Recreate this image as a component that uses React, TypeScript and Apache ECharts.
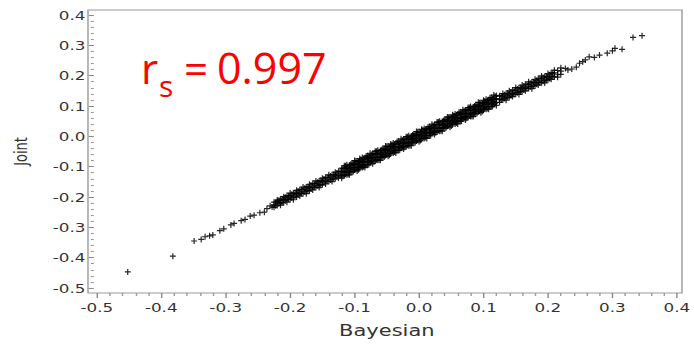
import React, { useEffect, useRef } from "react";
import * as echarts from "echarts";

// Horizontal stretch of the original SAS graphic (the picture was widened)
const STRETCH = 1.4;
const INNER_W = 496;
const INNER_H = 345;

const xTicks = [-0.5, 0.4];
const yTicks = [-0.5, 0.4];
const xAxisTitle = "Bayesian";
const yAxisTitle = "Joint";
const corrLabel = "0.997";

// Sparse lower tail (Bayesian, Joint)
const lowerTail: [number, number][] = [
  [-0.452, -0.447], [-0.382, -0.395], [-0.349, -0.345], [-0.338, -0.34],
  [-0.332, -0.331], [-0.325, -0.328], [-0.32, -0.325], [-0.309, -0.311],
  [-0.303, -0.305], [-0.292, -0.292], [-0.287, -0.287], [-0.276, -0.278],
  [-0.27, -0.274], [-0.262, -0.263], [-0.256, -0.26], [-0.247, -0.252],
  [-0.24, -0.25], [-0.236, -0.238], [-0.231, -0.229], [-0.228, -0.233],
];

// Lower part of the band: Bayesian value, then Joint values at it
const lowerBand: number[][] = [
  [-0.225, -0.217, -0.226, -0.234],
  [-0.22, -0.215, -0.228, -0.21],
  [-0.215, -0.221, -0.207, -0.227],
  [-0.21, -0.199, -0.209, -0.219],
  [-0.205, -0.195, -0.207, -0.217],
  [-0.2, -0.196, -0.209, -0.187],
  [-0.195, -0.201, -0.187, -0.209],
  [-0.19, -0.178, -0.189, -0.2],
  [-0.185, -0.175, -0.187, -0.197],
  [-0.18, -0.176, -0.189, -0.167],
  [-0.175, -0.181, -0.167, -0.189],
  [-0.17, -0.158, -0.169, -0.18],
  [-0.165, -0.155, -0.167, -0.177],
  [-0.16, -0.156, -0.169, -0.147],
  [-0.155, -0.161, -0.147, -0.169],
  [-0.15, -0.138, -0.149, -0.16],
  [-0.145, -0.135, -0.147, -0.157],
  [-0.14, -0.136, -0.149, -0.127],
  [-0.135, -0.141, -0.127, -0.149],
  [-0.13, -0.118, -0.129, -0.14],
  [-0.125, -0.115, -0.127, -0.137],
];

const lowerBandFill: number[][] = [
  [-0.2225, -0.218, -0.229],
  [-0.2175, -0.211, -0.222],
  [-0.2125, -0.206, -0.218],
  [-0.2075, -0.212, -0.201],
  [-0.2025, -0.196, -0.207],
  [-0.1975, -0.191, -0.203],
  [-0.1925, -0.197, -0.186],
  [-0.1875, -0.181, -0.193],
  [-0.1825, -0.176, -0.188],
  [-0.1775, -0.183, -0.171],
  [-0.1725, -0.166, -0.178],
  [-0.1675, -0.161, -0.174],
  [-0.1625, -0.168, -0.156],
  [-0.1575, -0.151, -0.163],
  [-0.1525, -0.146, -0.159],
  [-0.1475, -0.153, -0.141],
  [-0.1425, -0.136, -0.148],
  [-0.1375, -0.131, -0.144],
  [-0.1325, -0.138, -0.126],
  [-0.1275, -0.121, -0.133],
  [-0.1225, -0.116, -0.129],
];

// Core of the band, the darkest part
const coreBand: number[][] = [
  [-0.12, -0.105, -0.116, -0.128, -0.138],
  [-0.116, -0.105, -0.118, -0.129, -0.097],
  [-0.112, -0.094, -0.105, -0.117, -0.127],
  [-0.108, -0.118, -0.095, -0.107, -0.127],
  [-0.104, -0.095, -0.108, -0.088, -0.118],
  [-0.1, -0.08, -0.111, -0.094, -0.103],
  [-0.096, -0.081, -0.092, -0.104, -0.114],
  [-0.092, -0.081, -0.094, -0.105, -0.073],
  [-0.088, -0.07, -0.081, -0.093, -0.103],
  [-0.084, -0.094, -0.071, -0.083, -0.103],
  [-0.08, -0.071, -0.084, -0.064, -0.094],
  [-0.076, -0.056, -0.087, -0.07, -0.079],
  [-0.072, -0.057, -0.068, -0.08, -0.09],
  [-0.068, -0.057, -0.07, -0.081, -0.049],
  [-0.064, -0.046, -0.057, -0.069, -0.079],
  [-0.06, -0.07, -0.047, -0.059, -0.079],
  [-0.056, -0.047, -0.06, -0.04, -0.07],
  [-0.052, -0.032, -0.063, -0.046, -0.055],
  [-0.048, -0.033, -0.044, -0.056, -0.066],
  [-0.044, -0.033, -0.046, -0.057, -0.025],
  [-0.04, -0.022, -0.033, -0.045, -0.055],
  [-0.036, -0.046, -0.023, -0.035, -0.055],
  [-0.032, -0.023, -0.036, -0.016, -0.046],
  [-0.028, -0.008, -0.039, -0.022, -0.031],
  [-0.024, -0.009, -0.02, -0.032, -0.042],
  [-0.02, -0.009, -0.022, -0.033, -0.001],
  [-0.016, 0.002, -0.009, -0.021, -0.031],
  [-0.012, -0.022, 0.001, -0.011, -0.031],
  [-0.008, 0.001, -0.012, 0.008, -0.022],
  [-0.004, 0.016, -0.015, 0.002, -0.007],
  [0.0, 0.015, 0.004, -0.008, -0.018],
  [0.004, 0.015, 0.002, -0.009, 0.023],
  [0.008, 0.026, 0.015, 0.003, -0.007],
  [0.012, 0.002, 0.025, 0.013, -0.007],
  [0.016, 0.025, 0.012, 0.032, 0.002],
  [0.02, 0.04, 0.009, 0.026, 0.017],
  [0.024, 0.039, 0.028, 0.016, 0.006],
  [0.028, 0.039, 0.026, 0.015, 0.047],
  [0.032, 0.05, 0.039, 0.027, 0.017],
  [0.036, 0.026, 0.049, 0.037, 0.017],
  [0.04, 0.049, 0.036, 0.056, 0.026],
  [0.044, 0.064, 0.033, 0.05, 0.041],
  [0.048, 0.063, 0.052, 0.04, 0.03],
  [0.052, 0.063, 0.05, 0.039, 0.071],
  [0.056, 0.074, 0.063, 0.051, 0.041],
  [0.06, 0.05, 0.073, 0.061, 0.041],
  [0.064, 0.073, 0.06, 0.08, 0.05],
  [0.068, 0.088, 0.057, 0.074, 0.065],
  [0.072, 0.087, 0.076, 0.064, 0.054],
  [0.076, 0.087, 0.074, 0.063, 0.095],
  [0.08, 0.098, 0.087, 0.075, 0.065],
  [0.084, 0.074, 0.097, 0.085, 0.065],
  [0.088, 0.097, 0.084, 0.104, 0.074],
  [0.092, 0.112, 0.081, 0.098, 0.089],
  [0.096, 0.111, 0.1, 0.088, 0.078],
  [0.1, 0.111, 0.098, 0.087, 0.119],
  [0.104, 0.122, 0.111, 0.099, 0.089],
  [0.108, 0.098, 0.121, 0.109, 0.089],
  [0.112, 0.121, 0.108, 0.128, 0.098],
  [0.116, 0.136, 0.105, 0.122, 0.113],
  [0.12, 0.135, 0.124, 0.112, 0.102],
];

// Further points in the core, between the columns above
const coreBandFill: number[][] = [
  [-0.118, -0.106, -0.119, -0.132],
  [-0.114, -0.107, -0.125, -0.097],
  [-0.11, -0.114, -0.1, -0.126],
  [-0.106, -0.092, -0.103, -0.115],
  [-0.102, -0.09, -0.103, -0.116],
  [-0.098, -0.091, -0.109, -0.081],
  [-0.094, -0.098, -0.084, -0.11],
  [-0.09, -0.076, -0.087, -0.099],
  [-0.086, -0.074, -0.087, -0.1],
  [-0.082, -0.075, -0.093, -0.065],
  [-0.078, -0.082, -0.068, -0.094],
  [-0.074, -0.06, -0.071, -0.083],
  [-0.07, -0.058, -0.071, -0.084],
  [-0.066, -0.059, -0.077, -0.049],
  [-0.062, -0.066, -0.052, -0.078],
  [-0.058, -0.044, -0.055, -0.067],
  [-0.054, -0.042, -0.055, -0.068],
  [-0.05, -0.043, -0.061, -0.033],
  [-0.046, -0.05, -0.036, -0.062],
  [-0.042, -0.028, -0.039, -0.051],
  [-0.038, -0.026, -0.039, -0.052],
  [-0.034, -0.027, -0.045, -0.017],
  [-0.03, -0.034, -0.02, -0.046],
  [-0.026, -0.012, -0.023, -0.035],
  [-0.022, -0.01, -0.023, -0.036],
  [-0.018, -0.011, -0.029, -0.001],
  [-0.014, -0.018, -0.004, -0.03],
  [-0.01, 0.004, -0.007, -0.019],
  [-0.006, 0.006, -0.007, -0.02],
  [-0.002, 0.005, -0.013, 0.015],
  [0.002, -0.002, 0.012, -0.014],
  [0.006, 0.02, 0.009, -0.003],
  [0.01, 0.022, 0.009, -0.004],
  [0.014, 0.021, 0.003, 0.031],
  [0.018, 0.014, 0.028, 0.002],
  [0.022, 0.036, 0.025, 0.013],
  [0.026, 0.038, 0.025, 0.012],
  [0.03, 0.037, 0.019, 0.047],
  [0.034, 0.03, 0.044, 0.018],
  [0.038, 0.052, 0.041, 0.029],
  [0.042, 0.054, 0.041, 0.028],
  [0.046, 0.053, 0.035, 0.063],
  [0.05, 0.046, 0.06, 0.034],
  [0.054, 0.068, 0.057, 0.045],
  [0.058, 0.07, 0.057, 0.044],
  [0.062, 0.069, 0.051, 0.079],
  [0.066, 0.062, 0.076, 0.05],
  [0.07, 0.084, 0.073, 0.061],
  [0.074, 0.086, 0.073, 0.06],
  [0.078, 0.085, 0.067, 0.095],
  [0.082, 0.078, 0.092, 0.066],
  [0.086, 0.1, 0.089, 0.077],
  [0.09, 0.102, 0.089, 0.076],
  [0.094, 0.101, 0.083, 0.111],
  [0.098, 0.094, 0.108, 0.082],
  [0.102, 0.116, 0.105, 0.093],
  [0.106, 0.118, 0.105, 0.092],
  [0.11, 0.117, 0.099, 0.127],
  [0.114, 0.11, 0.124, 0.098],
  [0.118, 0.132, 0.121, 0.109],
];

// Upper part of the band
const upperBand: number[][] = [
  [0.125, 0.134, 0.122, 0.112],
  [0.13, 0.133, 0.12, 0.141],
  [0.135, 0.127, 0.141, 0.119],
  [0.14, 0.15, 0.139, 0.128],
  [0.145, 0.153, 0.141, 0.131],
  [0.15, 0.152, 0.139, 0.161],
  [0.155, 0.146, 0.16, 0.138],
  [0.16, 0.169, 0.158, 0.147],
  [0.165, 0.172, 0.16, 0.15],
  [0.17, 0.171, 0.158, 0.18],
  [0.175, 0.165, 0.179, 0.157],
  [0.18, 0.188, 0.177, 0.166],
  [0.185, 0.191, 0.179, 0.169],
  [0.19, 0.19, 0.177, 0.199],
  [0.195, 0.184, 0.198, 0.176],
  [0.2, 0.207, 0.196, 0.185],
  [0.205, 0.21, 0.198, 0.188],
  [0.21, 0.209, 0.196, 0.218],
  [0.215, 0.203, 0.217, 0.195],
  [0.22, 0.226, 0.215, 0.204],
];

const upperBandFill: number[][] = [
  [0.1275, 0.132, 0.12],
  [0.1325, 0.125, 0.137],
  [0.1375, 0.142, 0.13],
  [0.1425, 0.134, 0.146],
  [0.1475, 0.151, 0.139],
  [0.1525, 0.144, 0.156],
  [0.1575, 0.16, 0.148],
  [0.1625, 0.153, 0.165],
  [0.1675, 0.17, 0.158],
  [0.1725, 0.163, 0.175],
  [0.1775, 0.179, 0.167],
  [0.1825, 0.172, 0.184],
  [0.1875, 0.189, 0.177],
  [0.1925, 0.182, 0.194],
  [0.1975, 0.198, 0.186],
  [0.2025, 0.191, 0.203],
  [0.2075, 0.208, 0.196],
];

// Sparse upper tail
const upperTail: [number, number][] = [
  [0.227, 0.224], [0.231, 0.219], [0.237, 0.222], [0.244, 0.228],
  [0.249, 0.241], [0.254, 0.246], [0.258, 0.252], [0.264, 0.262],
  [0.272, 0.26], [0.28, 0.268], [0.292, 0.274], [0.3, 0.282],
  [0.304, 0.29], [0.315, 0.287], [0.332, 0.326], [0.346, 0.332],
];

const expand = (rows: number[][]): [number, number][] =>
  rows.flatMap((r) => r.slice(1).map((y) => [r[0], y] as [number, number]));

const allPoints: [number, number][] = [
  ...lowerTail,
  ...expand(lowerBand),
  ...expand(lowerBandFill),
  ...expand(coreBand),
  ...expand(coreBandFill),
  ...expand(upperBand),
  ...expand(upperBandFill),
  ...upperTail,
];

const PLUS = "path://M2,0 H3 V2 H5 V3 H3 V5 H2 V3 H0 V2 H2 Z";

export default function App() {
  const ref = useRef<HTMLDivElement>(null);

  useEffect(() => {
    if (!ref.current) return;
    const chart = echarts.init(ref.current, null, { renderer: "svg" });
    const s = 1 / STRETCH;
    const frameLeft = 88 * s;
    const frameRight = 682 * s;
    const redFont = (size: number) => `${size}px 'Open Sans'`;
    chart.setOption({
      animation: false,
      backgroundColor: "#ffffff",
      grid: { left: 91 * s, right: INNER_W - 679 * s, top: 15, bottom: 57 },
      xAxis: {
        type: "value",
        min: xTicks[0],
        max: xTicks[1],
        interval: 0.1,
        offset: 5,
        name: xAxisTitle,
        nameLocation: "middle",
        nameGap: 30,
        nameTextStyle: { fontFamily: "DejaVu Sans", fontSize: 15, color: "#333" },
        axisLine: { show: false, onZero: false },
        axisTick: { show: true, length: 5, lineStyle: { color: "#888" } },
        minorTick: { show: true, splitNumber: 5, length: 3, lineStyle: { color: "#999" } },
        splitLine: { show: false },
        axisLabel: {
          margin: 8,
          fontFamily: "DejaVu Sans",
          fontSize: 12,
          color: "#333",
          formatter: (v: number) => v.toFixed(1),
        },
      },
      yAxis: {
        type: "value",
        min: yTicks[0],
        max: yTicks[1],
        interval: 0.1,
        offset: 3 * s,
        name: yAxisTitle,
        nameLocation: "middle",
        nameGap: 46,
        nameRotate: 90,
        nameTextStyle: { fontFamily: "DejaVu Sans", fontSize: 13, color: "#333" },
        axisLine: { show: false, onZero: false },
        axisTick: { show: true, length: 5 * s, lineStyle: { color: "#888" } },
        minorTick: { show: true, splitNumber: 5, length: 3 * s, lineStyle: { color: "#999" } },
        splitLine: { show: false },
        axisLabel: {
          margin: 6,
          fontFamily: "DejaVu Sans",
          fontSize: 12,
          color: "#333",
          formatter: (v: number) => v.toFixed(1),
        },
      },
      graphic: [
        {
          type: "rect",
          silent: true,
          z: 0,
          shape: { x: frameLeft, y: 10, width: frameRight - frameLeft, height: 283 },
          style: { fill: "none", stroke: "#9a9a9a", lineWidth: 1 },
        },
        {
          type: "group",
          x: 0,
          y: 0,
          scaleX: s,
          z: 100,
          children: [
            {
              type: "text",
              x: 141,
              y: 67,
              style: { text: "r", fill: "#ff0000", font: redFont(42), align: "left", verticalAlign: "middle" },
            },
            {
              type: "text",
              x: 159,
              y: 85,
              style: { text: "s", fill: "#ff0000", font: redFont(30), align: "left", verticalAlign: "middle" },
            },
            {
              type: "text",
              x: 184,
              y: 67,
              style: { text: "=", fill: "#ff0000", font: redFont(42), align: "left", verticalAlign: "middle" },
            },
            {
              type: "text",
              x: 217,
              y: 67,
              style: { text: corrLabel, fill: "#ff0000", font: redFont(43), align: "left", verticalAlign: "middle" },
            },
          ],
        },
      ],
      series: [
        {
          type: "scatter",
          data: allPoints,
          symbol: PLUS,
          symbolSize: [6 * s, 6],
          itemStyle: { color: "#000", opacity: 0.85 },
          emphasis: { disabled: true },
        },
      ],
    });
    return () => chart.dispose();
  }, []);

  return (
    <div
      ref={ref}
      style={{
        position: "absolute",
        left: 0,
        top: 0,
        width: INNER_W,
        height: INNER_H,
        transform: `scaleX(${STRETCH})`,
        transformOrigin: "0 0",
        background: "#fff",
      }}
    />
  );
}
